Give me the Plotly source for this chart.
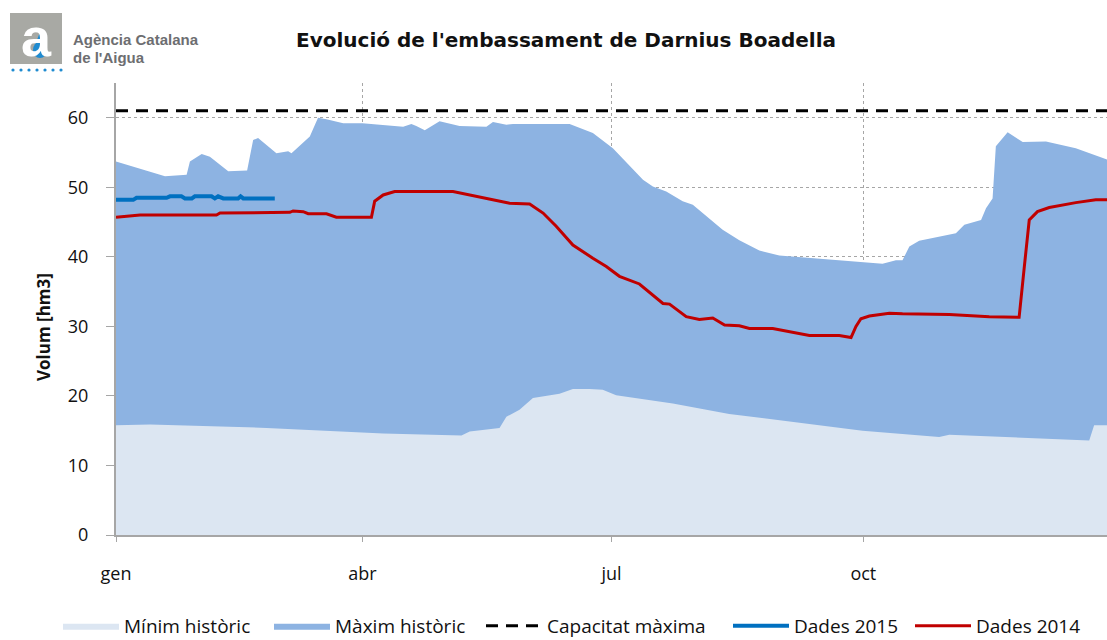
import plotly.graph_objects as go

# ---------------- data (x = day of year) ----------------
max_days = [0, 17.9, 25.8, 27, 31.3, 34.3, 41, 47.9, 50.1, 51.9, 58.6, 62.9, 64.1, 66, 70.8, 73.8, 76.9, 83, 90,
            104.9, 107.9, 109.7, 112.8, 118.2, 125.5, 135.3, 137.7, 142.6, 145, 154.7, 165.7, 174.2, 181.5,
            192.5, 196.1, 201, 207, 210.7, 221.6, 227.7, 235, 242.3, 255.7, 272.7, 280, 284.9, 287.3, 289.8,
            293.4, 306.8, 309.9, 316, 317.8, 320.2, 321.4, 325.7, 331.2, 339.7, 350.6, 362]
max_vals = [53.7, 51.6, 51.8, 53.7, 54.8, 54.4, 52.3, 52.4, 56.8, 57.1, 54.9, 55.2, 54.9, 55.6, 57.3, 60.0, 59.8, 59.2, 59.2,
            58.7, 59.1, 58.8, 58.2, 59.5, 58.8, 58.7, 59.4, 59.0, 59.1, 59.1, 59.1, 57.8, 55.6,
            51.1, 50.1, 49.4, 48.0, 47.5, 43.9, 42.4, 40.9, 40.2, 39.8, 39.2, 39.0, 39.5, 39.5, 41.5,
            42.3, 43.4, 44.6, 45.3, 47.0, 48.4, 55.9, 57.9, 56.5, 56.6, 55.6, 54.0]

min_days = [0, 12.4, 55, 79.3, 97.6, 126.2, 129.2, 140.1, 142.6, 147.4, 152.3, 162, 166.9, 173, 177.8, 182.7,
            203.4, 224, 272.7, 300.7, 304.4, 355.5, 357.3, 362]
min_vals = [15.8, 15.9, 15.4, 14.9, 14.6, 14.3, 14.9, 15.4, 17.0, 18.0, 19.7, 20.3, 21.0, 21.0, 20.9, 20.1,
            18.9, 17.4, 15.0, 14.1, 14.4, 13.6, 15.8, 15.8]

d2014_days = [0, 8.8, 36.7, 38, 63.5, 64.7, 68.4, 70.2, 76.9, 80.5, 93.3, 94.5, 97.6, 101.8, 123.1, 129.2, 137.7,
              143.8, 151.1, 156, 160.8, 166.9, 174.2, 179.1, 183.9, 191.2, 199.8, 202.2, 208.3, 213.1, 218,
              222.3, 227.7, 231.4, 239.9, 248.4, 253.3, 264.2, 268.5, 270.3, 272.1, 275.2, 282.5, 287.3,
              304.4, 319, 329.9, 331.8, 333.6, 336.6, 340.9, 350.6, 357.9, 362]
d2014_vals = [45.7, 46.0, 46.0, 46.3, 46.4, 46.6, 46.5, 46.2, 46.2, 45.7, 45.7, 48.0, 48.9, 49.4, 49.4, 48.9, 48.1,
              47.7, 47.6, 46.3, 44.4, 41.7, 39.8, 38.6, 37.2, 36.1, 33.3, 33.2, 31.4, 31.0, 31.2,
              30.2, 30.1, 29.7, 29.7, 29.1, 28.7, 28.7, 28.4, 30.0, 31.1, 31.5, 31.9, 31.8,
              31.7, 31.4, 31.3, 38.6, 45.3, 46.5, 47.1, 47.8, 48.2, 48.2]

d2015_days = [0, 6.3, 7.5, 18.5, 19.7, 23.9, 25.2, 27.7, 28.8, 34.9, 36.1, 37.3, 39.2, 44.6, 45.5, 46.5, 58]
d2015_vals = [48.2, 48.2, 48.5, 48.5, 48.7, 48.7, 48.4, 48.4, 48.7, 48.7, 48.4, 48.7, 48.4, 48.4, 48.7, 48.4, 48.4]

capacity = 61
cap_days = [0, 362]

month_ticks = [0, 90, 181, 273]
month_labels = ["gen", "abr", "jul", "oct"]

# ---------------- figure ----------------
FONT = "Open Sans, Liberation Sans Narrow, DejaVu Sans Condensed, sans-serif"

fig = go.Figure()
fig.add_trace(go.Scatter(x=max_days, y=max_vals, name="Màxim històric", mode="lines",
                         line=dict(width=0, color="#8DB3E2"), fill="tozeroy",
                         fillcolor="#8DB3E2", legend="legend2", hoverinfo="skip"))
fig.add_trace(go.Scatter(x=min_days, y=min_vals, name="Mínim històric", mode="lines",
                         line=dict(width=0, color="#DCE6F2"), fill="tozeroy",
                         fillcolor="#DCE6F2", legend="legend", hoverinfo="skip"))
fig.add_trace(go.Scatter(x=cap_days, y=[capacity] * len(cap_days), name="Capacitat màxima", mode="lines",
                         line=dict(width=3, color="black", dash="12px,8px"), legend="legend3"))
fig.add_trace(go.Scatter(x=d2015_days, y=d2015_vals, name="Dades 2015", mode="lines",
                         line=dict(width=4, color="#0070C0"), legend="legend4"))
fig.add_trace(go.Scatter(x=d2014_days, y=d2014_vals, name="Dades 2014", mode="lines",
                         line=dict(width=3, color="#C00000"), legend="legend5"))

W, H = 1107, 640
L, T, B, R = 116, 83, 535, 1107
PW = R - L
PH = B - T


def px(x):
    return (x - L) / PW


def py(y):
    return (B - y) / PH


shapes = [
    dict(type="rect", xref="paper", yref="paper", x0=px(10), x1=px(62), y0=py(64), y1=py(13),
         fillcolor="#A8A9A4", line=dict(width=0), layer="above"),
    dict(type="circle", xref="paper", yref="paper", x0=px(33), x1=px(47), y0=py(58), y1=py(42),
         fillcolor="#1F8BD0", line=dict(width=0), layer="above"),
    dict(type="path", xref="paper", yref="paper",
         path=f"M {px(40)},{py(32)} L {px(34)},{py(48)} L {px(46)},{py(48)} Z",
         fillcolor="#1F8BD0", line=dict(width=0), layer="above"),
]
for i in range(7):
    cx = 13 + i * 8
    shapes.append(dict(type="circle", xref="paper", yref="paper", x0=px(cx - 1.6), x1=px(cx + 1.6),
                       y0=py(71.6), y1=py(68.4), fillcolor="#1F8BD0", line=dict(width=0), layer="above"))

annotations = [
    dict(text="<b>Evolució de l'embassament de Darnius Boadella</b>", xref="paper", yref="paper",
         x=px(566), y=py(40), showarrow=False, xanchor="center", yanchor="middle",
         font=dict(family="DejaVu Sans, Verdana, sans-serif", size=20, color="#111111")),
    dict(text="<b>Agència Catalana</b>", xref="paper", yref="paper", x=px(71), y=py(40),
         showarrow=False, xanchor="left", yanchor="middle",
         font=dict(family="Liberation Sans, Arial, sans-serif", size=15, color="#6D6E71")),
    dict(text="<b>de l'Aigua</b>", xref="paper", yref="paper", x=px(71), y=py(57),
         showarrow=False, xanchor="left", yanchor="middle",
         font=dict(family="Liberation Sans, Arial, sans-serif", size=15, color="#6D6E71")),
    dict(text="<b>a</b>", xref="paper", yref="paper", x=px(36), y=py(37),
         showarrow=False, xanchor="center", yanchor="middle",
         font=dict(family="Liberation Sans, Arial, sans-serif", size=54, color="white")),
    dict(text="<b>Volum [hm3]</b>", xref="paper", yref="paper", x=px(43), y=py(327),
         showarrow=False, xanchor="center", yanchor="middle", textangle=-90,
         font=dict(family="Open Sans, Liberation Sans, sans-serif", size=17, color="#111111")),
]

# one legend box per entry, placed where the reference shows it
leg_x = [66, 277, 489, 736, 918]
legends = {}
for i, lx in enumerate(leg_x):
    key = "legend" if i == 0 else f"legend{i + 1}"
    legends[key] = dict(orientation="h", x=(lx - 8) / W, xanchor="left", xref="container",
                        y=1 - 626 / H, yanchor="middle", yref="container",
                        font=dict(family=FONT, size=19, color="#111111"), itemwidth=56,
                        bgcolor="rgba(0,0,0,0)")

fig.update_layout(
    width=W, height=H,
    margin=dict(l=L, r=W - R, t=T, b=H - B, autoexpand=False),
    paper_bgcolor="white", plot_bgcolor="white",
    showlegend=True,
    shapes=shapes,
    annotations=annotations,
    xaxis=dict(range=[0, 362], tickvals=month_ticks, ticktext=month_labels,
               showgrid=True, gridcolor="#A6A6A6", griddash="dot", gridwidth=1,
               showline=True, linecolor="#A6A6A6", linewidth=2,
               ticks="outside", ticklen=5, tickcolor="#A6A6A6",
               tickfont=dict(family=FONT, size=18, color="#111111"),
               ticklabelstandoff=16, zeroline=False, automargin=False),
    yaxis=dict(range=[0, 65], tickvals=[0, 10, 20, 30, 40, 50, 60],
               showgrid=True, gridcolor="#A6A6A6", griddash="dot", gridwidth=1,
               showline=True, linecolor="#A6A6A6", linewidth=2,
               ticks="outside", ticklen=8, tickcolor="#A6A6A6",
               tickfont=dict(family=FONT, size=18, color="#111111"),
               ticklabelstandoff=14, zeroline=False, automargin=False),
    **legends,
)

fig.write_html("out.html", config={"displayModeBar": False},
               post_script="document.body.style.margin='0';document.body.style.overflow='hidden';")
